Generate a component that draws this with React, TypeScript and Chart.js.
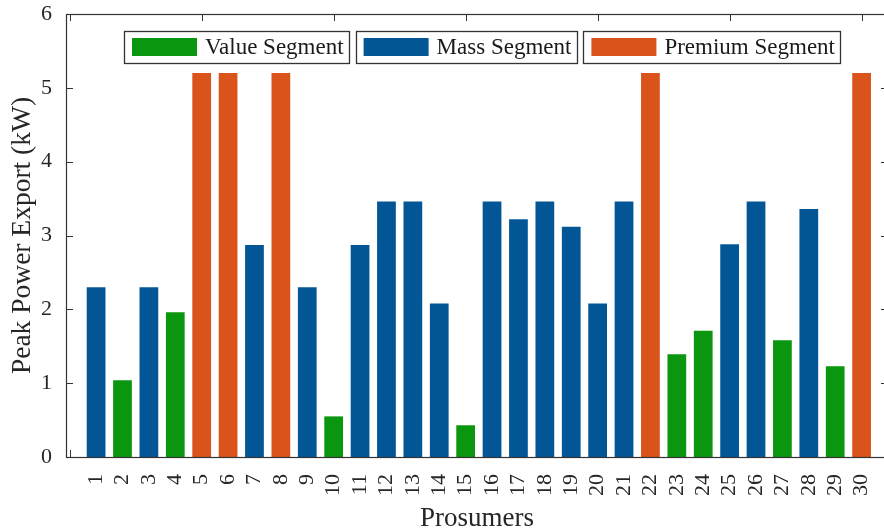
import React, { useEffect, useRef } from "react";
import { Chart, registerables } from "chart.js";

Chart.register(...registerables);

const categories = ["1","2","3","4","5","6","7","8","9","10","11","12","13","14","15","16","17","18","19","20","21","22","23","24","25","26","27","28","29","30"];
const values = [2.3, 1.04, 2.3, 1.96, 5.2, 5.2, 2.87, 5.2, 2.3, 0.55, 2.87, 3.46, 3.46, 2.08, 0.43, 3.46, 3.22, 3.46, 3.12, 2.08, 3.46, 5.2, 1.39, 1.71, 2.88, 3.46, 1.58, 3.36, 1.23, 5.2];
const segments = ["M","V","M","V","P","P","M","P","M","V","M","M","M","M","V","M","M","M","M","M","M","P","V","V","M","M","V","M","V","P"];
const segmentKeys = ["V", "M", "P"];
const segmentNames = ["Value Segment", "Mass Segment", "Premium Segment"];
const segmentColors = ["#0b960f", "#035696", "#d9531a"];
const frameTicks = [0, 5, 10, 15, 20, 25, 30];
const yTicks = [0, 1, 2, 3, 4, 5, 6];

const FONT = "'Liberation Serif', 'Times New Roman', serif";
const AXIS = "#333333";

const framePlugin = {
  id: "framePlugin",
  beforeDatasetsDraw(chart: any) {
    const { ctx, chartArea: a, scales } = chart;
    const xs = scales.x, ys = scales.y;
    const L = 7;
    ctx.save();
    ctx.strokeStyle = AXIS;
    ctx.lineWidth = 1;
    ctx.beginPath();
    frameTicks.forEach((t) => {
      const px = Math.round(xs.getPixelForValue(t)) + 0.5;
      ctx.moveTo(px, a.bottom);
      ctx.lineTo(px, a.bottom - L);
      ctx.moveTo(px, a.top);
      ctx.lineTo(px, a.top + L);
    });
    yTicks.forEach((t) => {
      const py = Math.round(ys.getPixelForValue(t)) + 0.5;
      ctx.moveTo(a.left, py);
      ctx.lineTo(a.left + L, py);
      ctx.moveTo(a.right, py);
      ctx.lineTo(a.right - L, py);
    });
    ctx.stroke();
    ctx.restore();
  },
  afterDatasetsDraw(chart: any) {
    const { ctx, chartArea: a } = chart;
    ctx.save();
    ctx.strokeStyle = AXIS;
    ctx.lineWidth = 1.2;
    ctx.strokeRect(Math.round(a.left) + 0.5, Math.round(a.top) + 0.5, Math.round(a.right - a.left), Math.round(a.bottom - a.top));

    // legend boxes
    ctx.font = `23px ${FONT}`;
    const swW = 65, swH = 18, padL = 8, gapT = 8, padR = 5, boxH = 32, gap = 7;
    const widths = segmentNames.map((n) => padL + swW + gapT + ctx.measureText(n).width + padR);
    let x = a.left + 58;
    const y = a.top + 17;
    segmentNames.forEach((n, i) => {
      const w = widths[i];
      ctx.fillStyle = "#ffffff";
      ctx.fillRect(x, y, w, boxH);
      ctx.strokeStyle = AXIS;
      ctx.lineWidth = 1.3;
      ctx.strokeRect(Math.round(x) + 0.5, Math.round(y) + 0.5, Math.round(w), boxH);
      ctx.fillStyle = segmentColors[i];
      ctx.fillRect(x + padL, y + (boxH - swH) / 2, swW, swH);
      ctx.fillStyle = "#1a1a1a";
      ctx.textBaseline = "middle";
      ctx.textAlign = "left";
      ctx.fillText(n, x + padL + swW + gapT, y + boxH / 2 + 1);
      x += w + gap;
    });
    ctx.restore();
  },
};

export default function App() {
  const ref = useRef<HTMLCanvasElement | null>(null);
  useEffect(() => {
    if (!ref.current) return;
    const colors = segments.map((s) => segmentColors[segmentKeys.indexOf(s)]);
    const chart = new Chart(ref.current, {
      type: "bar",
      data: {
        datasets: [
          {
            data: values.map((v, i) => ({ x: i + 1, y: v })),
            backgroundColor: colors,
            borderWidth: 0,
            barPercentage: 0.71,
            categoryPercentage: 1,
          },
        ],
      },
      options: {
        responsive: false,
        animation: false,
        devicePixelRatio: 1,
        layout: { padding: { top: 14, right: 2, left: 0, bottom: 0 } },
        plugins: { legend: { display: false }, tooltip: { enabled: false } },
        scales: {
          x: {
            type: "linear",
            offset: false,
            min: -0.14,
            max: 31,
            grid: { display: false, drawTicks: false, offset: false },
            border: { display: false },
            afterBuildTicks: (scale: any) => {
              scale.ticks = categories.map((c, i) => ({ value: i + 1 }));
            },
            afterFit: (scale: any) => {
              scale.height = 74;
              scale.paddingLeft = 0;
              scale.paddingRight = 0;
              scale.paddingTop = 0;
              scale.paddingBottom = 0;
            },
            ticks: {
              autoSkip: false,
              maxRotation: 90,
              minRotation: 90,
              padding: 17,
              color: "#262626",
              font: { family: FONT, size: 22 },
              callback: (v: any) => categories[Number(v) - 1] ?? "",
            },
            title: {
              display: true,
              text: "Prosumers",
              color: "#262626",
              font: { family: FONT, size: 27 },
              padding: { top: 0, bottom: -4 },
            },
          },
          y: {
            min: 0,
            max: 6,
            grid: { display: false, drawTicks: false },
            border: { display: false },
            afterFit: (scale: any) => {
              scale.width = 66;
              scale.paddingTop = 0;
              scale.paddingBottom = 0;
              scale.paddingLeft = 0;
              scale.paddingRight = 0;
            },
            ticks: {
              stepSize: 1,
              padding: 14,
              color: "#262626",
              font: { family: FONT, size: 22 },
            },
            title: {
              display: true,
              text: "Peak Power Export (kW)",
              color: "#262626",
              font: { family: FONT, size: 27.5 },
              padding: { top: 6, bottom: 0 },
            },
          },
        },
      },
      plugins: [framePlugin],
    });
    return () => chart.destroy();
  }, []);
  return (
    <div style={{ position: "fixed", left: 0, top: 0, width: 884, height: 531, overflow: "hidden", background: "#fff" }}>
      <canvas ref={ref} width={890} height={531} style={{ display: "block", width: 890, height: 531 }} />
    </div>
  );
}
